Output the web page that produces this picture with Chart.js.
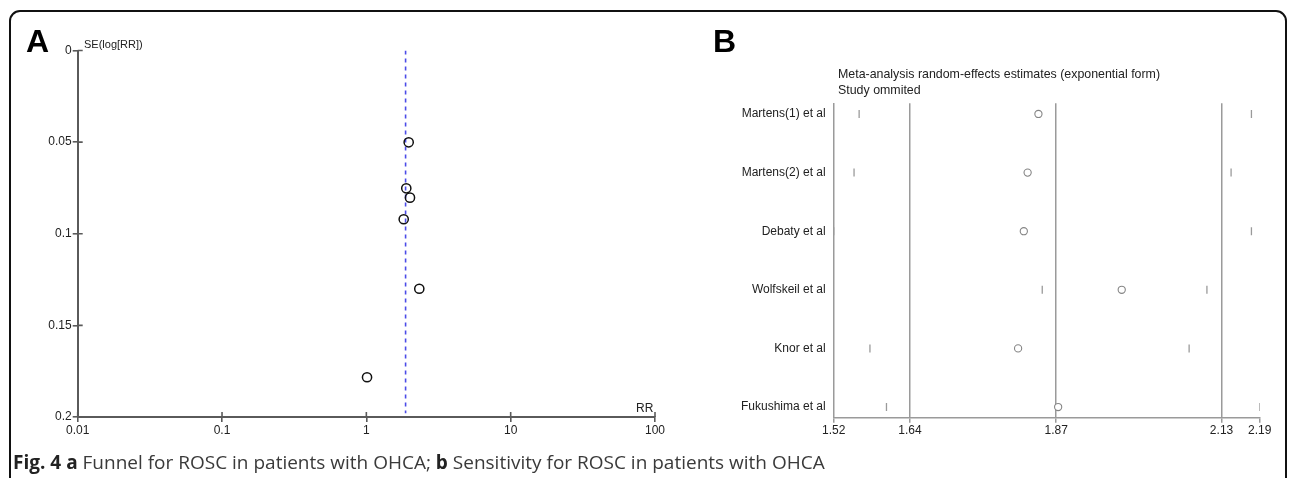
<!DOCTYPE html>
<html>
<head>
<meta charset="utf-8">
<script src="https://cdn.jsdelivr.net/npm/chart.js@4/dist/chart.umd.min.js"></script>
<style>
  html, body { margin: 0; padding: 0; background: #fff; overflow: hidden; }
  #page { position: relative; width: 1290px; height: 478px; overflow: hidden; font-family: "Liberation Sans", Arial, sans-serif; color: #222; }
  #frame { position: absolute; left: 9px; top: 10px; width: 1274px; height: 500px; border: 2px solid #111; border-radius: 11px; }
  canvas { position: absolute; top: 0; }
  .txt { position: absolute; white-space: nowrap; }
  .panel { font-weight: bold; font-size: 32px; line-height: 32px; color: #000; }
  #caption { left: 13px; top: 451px; font-family: "Open Sans", sans-serif; font-size: 19px; line-height: 22px; color: #3a3a3a; }
  #caption b { color: #222; }
</style>
</head>
<body>
<div id="page">
  <div id="frame"></div>
  <canvas id="funnel" width="700" height="478" style="left:0"></canvas>
  <canvas id="sens" width="590" height="478" style="left:700px"></canvas>

  <div class="txt panel" style="left:26px; top:25px">A</div>
  <div class="txt panel" style="left:713px; top:25px">B</div>
  <div class="txt" style="left:84px; top:38px; font-size:11px">SE(log[RR])</div>
  <div class="txt" style="left:636px; top:401px; font-size:12px">RR</div>
  <div class="txt" style="left:838px; top:66px; font-size:12.4px; line-height:16px">Meta-analysis random-effects estimates (exponential form)<br>Study ommited</div>
  <div class="txt" id="caption"><b>Fig. 4</b> <b>a</b> Funnel for ROSC in patients with OHCA; <b>b</b> Sensitivity for ROSC in patients with OHCA</div>
</div>

<script>
// funnel plot (panel A)
const funnelRR = [1.965, 1.891, 2.006, 1.815, 2.327, 1.011];
const funnelSE = [0.0501, 0.0752, 0.0803, 0.0921, 0.1300, 0.1783];
const pooledRR = 1.87;
const rrTicks = [0.01, 0.1, 1, 10, 100];
const seTicks = [0, 0.05, 0.1, 0.15, 0.2];

// sensitivity analysis (panel B)
const studies = ['Martens(1) et al', 'Martens(2) et al', 'Debaty et al', 'Wolfskeil et al', 'Knor et al', 'Fukushima et al'];
const estimate = [1.842, 1.825, 1.819, 1.973, 1.810, 1.873];
const lowerCI = [1.560, 1.552, 1.520, 1.848, 1.577, 1.603];
const upperCI = [2.177, 2.145, 2.177, 2.107, 2.079, 2.190];
const sensTicks = [1.52, 1.64, 1.87, 2.13, 2.19];

Chart.defaults.font.family = '"Liberation Sans", Arial, sans-serif';
Chart.defaults.font.size = 12;
Chart.defaults.color = '#222';
Chart.defaults.animation = false;
Chart.defaults.plugins.legend.display = false;
Chart.defaults.plugins.tooltip.enabled = false;

const axisGrey = '#5a5a5a';

// ticks in the funnel cross the axis: draw the inner half here
const innerTicks = {
  id: 'innerTicks',
  afterDraw(chart) {
    const c = chart.ctx, xs = chart.scales.x, ys = chart.scales.y;
    c.save();
    c.strokeStyle = axisGrey;
    c.lineWidth = 1.6;
    c.beginPath();
    ys.ticks.forEach(t => {
      const y = ys.getPixelForValue(t.value);
      c.moveTo(xs.left, y); c.lineTo(xs.left + 5, y);
    });
    xs.ticks.forEach(t => {
      const x = xs.getPixelForValue(t.value);
      c.moveTo(x, ys.bottom); c.lineTo(x, ys.bottom - 5);
    });
    c.stroke();
    c.restore();
  }
};

new Chart(document.getElementById('funnel'), {
  type: 'scatter',
  data: {
    datasets: [{
      data: funnelRR.map((rr, i) => ({ x: rr, y: funnelSE[i] })),
      pointRadius: 4.6,
      pointBorderWidth: 1.5,
      pointBorderColor: '#111',
      pointBackgroundColor: 'rgba(0,0,0,0)'
    }, {
      data: [{ x: pooledRR, y: 0 }, { x: pooledRR, y: 0.198 }],
      showLine: true,
      pointRadius: 0,
      borderColor: '#4b4be8',
      borderWidth: 1.6,
      borderDash: [4, 4]
    }]
  },
  options: {
    responsive: false,
    devicePixelRatio: 1,
    layout: { padding: { top: 50.5, right: 45, left: 0, bottom: 0 } },
    scales: {
      x: {
        type: 'logarithmic',
        min: 0.01, max: 100,
        afterBuildTicks: s => { s.ticks = rrTicks.map(v => ({ value: v })); },
        afterFit: s => { s.height = 61; },
        ticks: { callback: v => String(v), padding: 1, maxRotation: 0, autoSkip: false },
        grid: { drawOnChartArea: false, tickLength: 5, color: axisGrey, lineWidth: 1.6 },
        border: { color: axisGrey, width: 2 }
      },
      y: {
        type: 'linear',
        reverse: true,
        min: 0, max: 0.2,
        afterBuildTicks: s => { s.ticks = seTicks.map(v => ({ value: v })); },
        afterFit: s => { s.width = 77.7; },
        ticks: { callback: v => String(+v.toFixed(2)), padding: 1 },
        grid: { drawOnChartArea: false, tickLength: 5, color: axisGrey, lineWidth: 1.6 },
        border: { color: axisGrey, width: 2 }
      }
    }
  },
  plugins: [innerTicks]
});

const lineGrey = '#9a9a9a';

new Chart(document.getElementById('sens'), {
  type: 'scatter',
  data: {
    datasets: [{
      data: estimate.map((v, i) => ({ x: v, y: i })),
      pointRadius: 3.6,
      pointBorderWidth: 1.1,
      pointBorderColor: '#858585',
      pointBackgroundColor: '#fff'
    }, {
      data: lowerCI.map((v, i) => ({ x: v, y: i })),
      pointStyle: 'line',
      rotation: 90,
      pointRadius: 4,
      pointBorderWidth: 1.3,
      pointBorderColor: lineGrey
    }, {
      data: upperCI.map((v, i) => ({ x: v, y: i })),
      pointStyle: 'line',
      rotation: 90,
      pointRadius: 4,
      pointBorderWidth: 1.3,
      pointBorderColor: lineGrey
    }]
  },
  options: {
    responsive: false,
    devicePixelRatio: 1,
    layout: { padding: { top: 103.3, right: 30.3, left: 0, bottom: 0 } },
    scales: {
      x: {
        type: 'linear',
        min: sensTicks[0], max: sensTicks[sensTicks.length - 1],
        afterBuildTicks: s => { s.ticks = sensTicks.map(v => ({ value: v })); },
        afterFit: s => { s.height = 60.3; },
        ticks: { callback: v => v.toFixed(2), padding: 1, maxRotation: 0, autoSkip: false },
        grid: {
          drawOnChartArea: true,
          tickLength: 5,
          lineWidth: 1.5,
          color: ctx => (ctx.index > 0 && ctx.index < sensTicks.length - 1) ? lineGrey : 'rgba(0,0,0,0)',
          tickColor: lineGrey
        },
        border: { color: lineGrey, width: 1.5 }
      },
      y: {
        type: 'linear',
        reverse: true,
        min: -0.182, max: studies.length - 1 + 0.182,
        afterBuildTicks: s => { s.ticks = studies.map((n, i) => ({ value: i })); },
        afterFit: s => { s.width = 133.7; },
        ticks: { callback: v => studies[v], padding: 8 },
        grid: { display: false, drawTicks: false },
        border: { color: lineGrey, width: 1.5 }
      }
    }
  }
});
</script>
</body>
</html>
